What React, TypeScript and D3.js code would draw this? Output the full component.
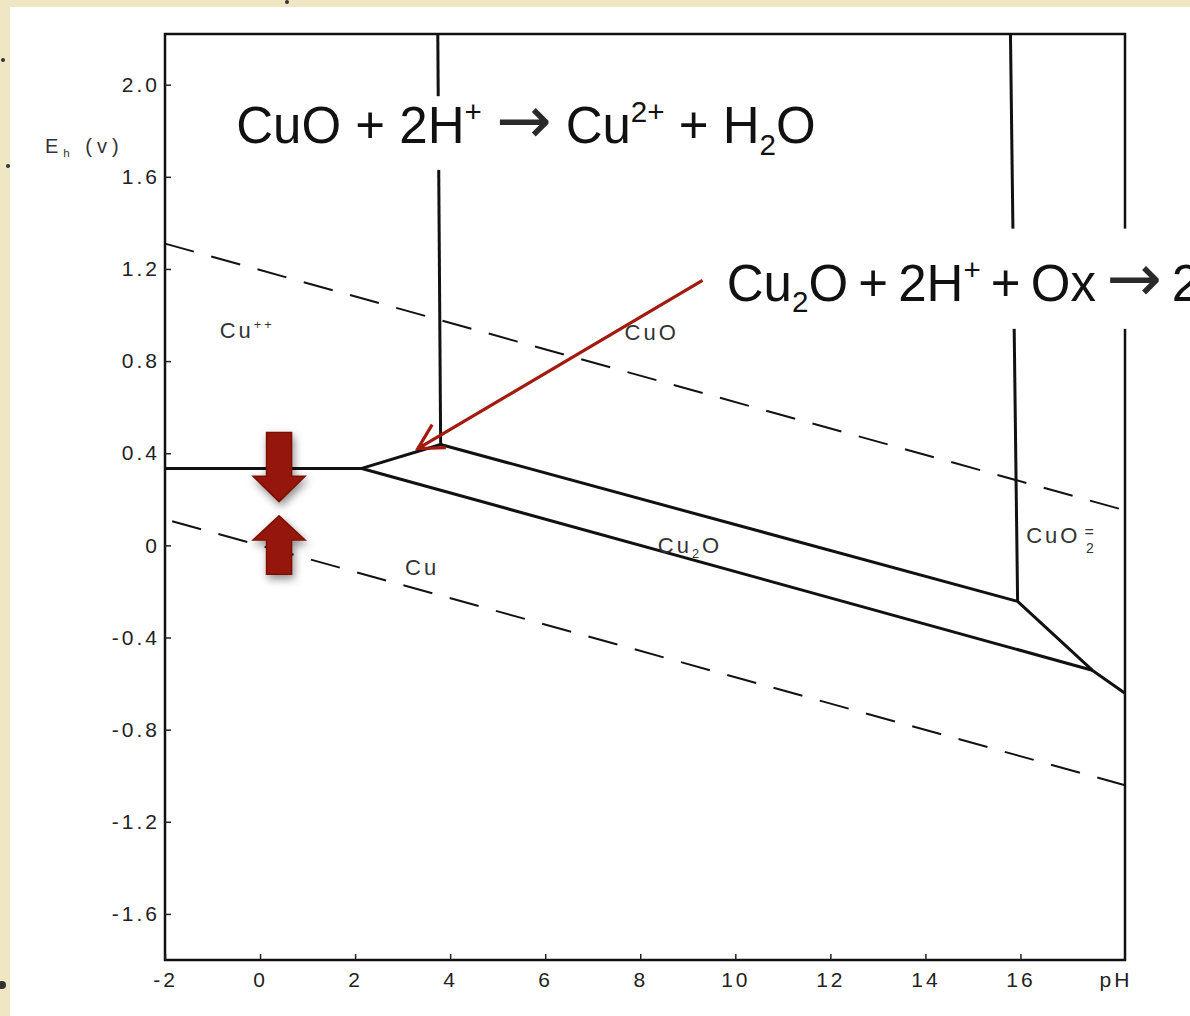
import * as d3 from 'd3';
import { useEffect, useRef } from 'react';

// pH / Eh ticks
const phTicks = [-2, 0, 2, 4, 6, 8, 10, 12, 14, 16, 18];
const ehTicks = [2.0, 1.6, 1.2, 0.8, 0.4, 0, -0.4, -0.8, -1.2, -1.6];

// water stability limits (dashed)
const upperWater = [{ ph: -2, eh: 1.31 }, { ph: 18.2, eh: 0.152 }];
const lowerWater = [{ ph: -1.85, eh: 0.105 }, { ph: 18.2, eh: -1.041 }];

// phase boundaries (solid)
const boundaries = [
  [{ ph: -2, eh: 0.334 }, { ph: 2.14, eh: 0.334 }, { ph: 3.8, eh: 0.438 }, { ph: 15.94, eh: -0.243 }, { ph: 17.51, eh: -0.542 }, { ph: 18.2, eh: -0.642 }],
  [{ ph: 2.14, eh: 0.334 }, { ph: 17.51, eh: -0.542 }],
  [{ ph: 3.8, eh: 0.438 }, { ph: 3.74, eh: 2.22 }],
  [{ ph: 15.94, eh: -0.243 }, { ph: 15.79, eh: 2.22 }],
];

// field labels
const fieldLabels = [
  { ph: -0.85, eh: 0.9, parts: [{ t: 'Cu' }, { t: '++', s: 'sup' }] },
  { ph: 7.67, eh: 0.89, parts: [{ t: 'CuO' }] },
  { ph: 8.37, eh: -0.035, parts: [{ t: 'Cu' }, { t: '2', s: 'sub' }, { t: 'O' }] },
  { ph: 3.05, eh: -0.13, parts: [{ t: 'Cu' }] },
];

// reaction call-outs
const eq1 = [{ t: 'CuO + 2H' }, { t: '+', s: 'sup' }, { t: ' ' }, { t: '\u2192', s: 'arrow' }, { t: ' Cu' }, { t: '2+', s: 'sup' }, { t: ' + H' }, { t: '2', s: 'sub' }, { t: 'O' }];
const eq2 = [{ t: 'Cu' }, { t: '2', s: 'sub' }, { t: 'O + 2H' }, { t: '+', s: 'sup' }, { t: ' + Ox ' }, { t: '\u2192', s: 'arrow' }, { t: ' 2' }];

function App() {
  const svgRef = useRef(null);

  useEffect(() => {
    const width = 1190;
    const height = 1016;
    const svg = d3.select(svgRef.current);
    svg.selectAll('*').remove();

    const x = d3.scaleLinear().domain([-2, 18.2]).range([165, 1125]);
    const y = d3.scaleLinear().domain([-1.8, 2.22]).range([960, 34]);

    const defs = svg.append('defs');
    const f = defs.append('filter').attr('id', 'shadow').attr('x', '-50%').attr('y', '-50%').attr('width', '200%').attr('height', '200%');
    f.append('feDropShadow').attr('dx', 2).attr('dy', 4).attr('stdDeviation', 4).attr('flood-color', '#000').attr('flood-opacity', 0.45);

    // paper
    svg.append('rect').attr('width', width).attr('height', height).attr('fill', '#efe6c4');
    svg.append('rect').attr('x', 10).attr('y', 7).attr('width', width - 10).attr('height', height - 7).attr('fill', '#fff');
    [[3, 60, 2], [8, 166, 2], [2, 985, 4], [287, 2, 2]].forEach(([cx, cy, r]) =>
      svg.append('circle').attr('cx', cx).attr('cy', cy).attr('r', r).attr('fill', '#333'));

    const line = d3.line().x(d => x(d.ph)).y(d => y(d.eh));

    // dashed water lines
    [upperWater, lowerWater].forEach(pts =>
      svg.append('path').datum(pts).attr('d', line).attr('fill', 'none')
        .attr('stroke', '#111').attr('stroke-width', 2).attr('stroke-dasharray', '30 18'));

    boundaries.forEach(pts =>
      svg.append('path').datum(pts).attr('d', line).attr('fill', 'none')
        .attr('stroke', '#111').attr('stroke-width', 3).attr('stroke-linejoin', 'round'));

    // frame
    svg.append('rect').attr('x', x(-2)).attr('y', y(2.22))
      .attr('width', x(18.2) - x(-2)).attr('height', y(-1.8) - y(2.22))
      .attr('fill', 'none').attr('stroke', '#111').attr('stroke-width', 2.5);

    // axes
    const yAxis = svg.append('g').attr('transform', `translate(${x(-2)},0)`)
      .call(d3.axisLeft(y).tickValues(ehTicks).tickSize(-6).tickPadding(5)
        .tickFormat(d => (d === 0 ? '0' : d.toFixed(1))));
    const xAxis = svg.append('g').attr('transform', `translate(0,${y(-1.8)})`)
      .call(d3.axisBottom(x).tickValues(phTicks).tickSize(-6).tickPadding(12)
        .tickFormat(d => (d === 18 ? 'pH' : String(d))));
    [yAxis, xAxis].forEach(g => {
      g.select('.domain').remove();
      g.selectAll('line').attr('stroke', '#222').attr('stroke-width', 1.5);
      g.selectAll('text').attr('fill', '#222').style('font-family', 'Liberation Sans, Arial, sans-serif')
        .style('font-size', '21px').style('letter-spacing', '3px');
    });
    xAxis.selectAll('.tick').filter(d => d === 18).select('line').remove();

    // rich text helper
    const rich = (t, parts, size) => {
      let shift = 0;
      parts.forEach(p => {
        const target = p.s === 'sup' ? -0.42 * size : p.s === 'sub' ? 0.22 * size : 0;
        const span = t.append('tspan').attr('dy', target - shift)
          .style('font-size', p.s === 'sup' || p.s === 'sub' ? `${size * 0.58}px` : `${size}px`).text(p.t);
        if (p.s === 'arrow') {
          span.style('font-family', 'DejaVu Sans, sans-serif').style('font-size', `${size * 1.3}px`)
            .attr('fill', '#2a2a2a');
        }
        shift = target;
      });
      return t;
    };

    // labels
    const lab = svg.append('g').attr('fill', '#333')
      .style('font-family', 'Liberation Sans, Arial, sans-serif').style('letter-spacing', '3px');
    fieldLabels.forEach(l => rich(lab.append('text').attr('x', x(l.ph)).attr('y', y(l.eh)), l.parts, 22));
    lab.append('text').attr('x', x(16.12)).attr('y', y(0.01)).style('font-size', '22px').text('CuO');
    lab.append('text').attr('x', x(17.35)).attr('y', y(0.035)).style('font-size', '16px').style('letter-spacing', '0px').text('=');
    lab.append('text').attr('x', x(17.38)).attr('y', y(-0.035)).style('font-size', '14px').style('letter-spacing', '0px').text('2');
    rich(lab.append('text').attr('x', 45).attr('y', 153).style('letter-spacing', '5px'),
      [{ t: 'E' }, { t: 'h', s: 'sub' }, { t: ' (v)' }], 20);

    // call-out boxes and equations
    svg.append('rect').attr('x', x(-0.65)).attr('y', y(1.95)).attr('width', x(11.9) - x(-0.65))
      .attr('height', y(1.63) - y(1.95)).attr('fill', '#fff');
    svg.append('rect').attr('x', x(9.35)).attr('y', y(1.375)).attr('width', width - x(9.35))
      .attr('height', y(0.94) - y(1.375)).attr('fill', '#fff');
    const eqStyle = g => g.attr('fill', '#111').style('font-family', 'Liberation Sans, Arial, sans-serif');
    rich(eqStyle(svg.append('text').attr('x', x(-0.5)).attr('y', y(1.745))), eq1, 51);
    rich(eqStyle(svg.append('text').attr('x', x(9.82)).attr('y', y(1.06)).style('word-spacing', '-4px')), eq2, 51);

    // thin red pointer
    const p0 = [x(9.31), y(1.15)];
    const p1 = [x(3.32), y(0.42)];
    const ang = Math.atan2(p1[1] - p0[1], p1[0] - p0[0]);
    const head = [ang + Math.PI - 0.5, ang + Math.PI + 0.5].map(a => [p1[0] + 28 * Math.cos(a), p1[1] + 28 * Math.sin(a)]);
    svg.append('path')
      .attr('d', `M${p0}L${p1}M${head[0]}L${p1}L${head[1]}`)
      .attr('fill', 'none').attr('stroke', '#a31a0e').attr('stroke-width', 3.2);

    // thick red arrows
    const cx = x(0.4);
    const shaft = 12.5;
    const hw = 26;
    const down = [[cx - shaft, y(0.49)], [cx + shaft, y(0.49)], [cx + shaft, y(0.3)], [cx + hw, y(0.3)], [cx, y(0.19)], [cx - hw, y(0.3)], [cx - shaft, y(0.3)]];
    const up = [[cx, y(0.128)], [cx + hw, y(0.023)], [cx + shaft, y(0.023)], [cx + shaft, y(-0.125)], [cx - shaft, y(-0.125)], [cx - shaft, y(0.023)], [cx - hw, y(0.023)]];
    [down, up].forEach(pts =>
      svg.append('polygon').attr('points', pts.map(p => p.join(',')).join(' '))
        .attr('fill', '#951807').attr('stroke', '#7c1004').attr('stroke-width', 1.5)
        .attr('filter', 'url(#shadow)'));
  }, []);

  return (
    <svg ref={svgRef} width={1190} height={1016}
      style={{ position: 'absolute', left: 0, top: 0, display: 'block' }} />
  );
}

export default App;
